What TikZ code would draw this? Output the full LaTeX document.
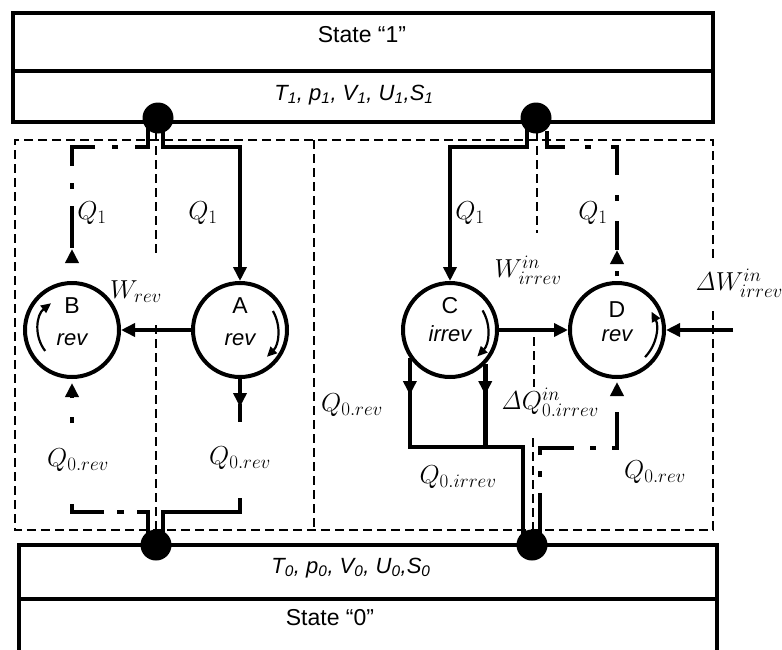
\RequirePackage{fix-cm}
\documentclass[tikz,border=0pt]{standalone}
\usepackage[no-math]{fontspec}
\setmainfont{Liberation Sans}
\DeclareMathSizes{26}{26}{19}{15}
\usetikzlibrary{arrows.meta}
\pgfdeclarelayer{fg}
\pgfsetlayers{main,fg}
\begin{document}
\begin{tikzpicture}[x=1pt,y=-1pt,
  txt/.style={font=\fontsize{23}{27}\selectfont, inner sep=0pt},
  itxt/.style={font=\fontsize{22}{26}\selectfont\itshape, inner sep=0pt},
  mlbl/.style={font=\fontsize{26}{30}\selectfont, inner sep=1pt},
  engine/.style={circle, draw, line width=4pt, minimum size=94pt, inner sep=0pt, fill=white},
  dotn/.style={circle, fill=black, minimum size=31pt, inner sep=0pt},
  boxline/.style={line width=4pt},
  boxdash/.style={line width=2pt, dash pattern=on 9pt off 5pt},
  thindash/.style={line width=2pt, dash pattern=on 9pt off 5pt},
  flow/.style={line width=4.5pt},
  flowarr/.style={line width=4.5pt, -{Triangle[length=14pt,width=13pt]}},
  dd/.style={line width=4.5pt},
  spin/.style={line width=2.2pt, -{Triangle[length=10pt,width=9pt]}}
]
\useasboundingbox (0,0) rectangle (782,649);

% reservoirs
\draw[boxline] (13,13) rectangle (713,122);
\draw[boxline] (13,71) -- (713,71);
\node[txt] (st1) at (362,35) {State “1”};
\node[itxt] (pr1) at (354,95) {T\textsubscript{1}, p\textsubscript{1}, V\textsubscript{1}, U\textsubscript{1},S\textsubscript{1}};

\draw[boxline] (19,660) -- (19,545) -- (717,545) -- (717,660);
\draw[boxline] (19,599) -- (717,599);
\node[itxt] (pr0) at (351,568) {T\textsubscript{0}, p\textsubscript{0}, V\textsubscript{0}, U\textsubscript{0},S\textsubscript{0}};
\node[txt] (st0) at (330,618) {State “0”};

% contact dots
\begin{pgfonlayer}{fg}
\node[dotn] (dTL) at (158,118) {};
\node[dotn] (dTR) at (536,118) {};
\node[dotn] (dBL) at (156,545) {};
\node[dotn] (dBR) at (532,545) {};
\end{pgfonlayer}

% system boundaries
\draw[boxdash] (713,258) -- (713,140) -- (15,140) -- (15,530) -- (713,530) -- (713,310);
\draw[boxdash] (314,140) -- (314,530);
\draw[thindash] (156,118) -- (156,256);
\draw[thindash] (156,325) -- (156,545);
\draw[thindash] (537,118) -- (537,233);
\draw[thindash] (534,337) -- (534,387);
\draw[thindash] (533,438) -- (533,545);

% engines
\node[engine] (B) at (72,330) {};
\node[engine] (A) at (240,330) {};
\node[engine] (C) at (450,330) {};
\node[engine] (D) at (617,330) {};
\node[txt] (Bn) at (72,306) {B};
\node[itxt] (Br) at (72,340) {rev};
\node[txt] (An) at (240,306) {A};
\node[itxt] (Ar) at (240,340) {rev};
\node[txt] (Cn) at (450,306) {C};
\node[itxt] (Cr) at (450,334) {irrev};
\node[txt] (Dn) at (617,310) {D};
\node[itxt] (Dr) at (617,336) {rev};

% rotation arrows
\draw[spin] ([shift={(142:34)}]B.center) arc[start angle=142, end angle=232, radius=34];
\draw[spin] ([shift={(-30:38)}]A.center) arc[start angle=-30, end angle=45, radius=38];
\draw[spin] ([shift={(-31:38)}]C.center) arc[start angle=-31, end angle=44, radius=38];
\draw[spin] ([shift={(44:39)}]D.center) arc[start angle=44, end angle=-28, radius=39];

% left half: A (engine) and B (reversed)
\draw[flowarr] ([xshift=5pt]dTL.center) |- (240,147) -- (A.north);
\draw[dd, dash pattern=on 42pt off 17pt on 6pt off 17pt] ([xshift=-10pt]dTL.center) |- (72,147) -- (72,248);
\draw[flowarr] (72,263) -- (72,249);
\draw[flowarr] (A.south) -- (240,407);
\draw[flow] (240,404) -- (240,422);
\draw[flow] (240,498) -- (240,512) -| ([xshift=7pt]dBL.center);
\draw[dd, dash pattern=on 40pt off 13pt on 7pt off 13pt, dash phase=69pt] ([xshift=-8pt]dBL.center) |- (72,512) -- (72,498);
\draw[flow] (72,423) -- (72,417);
\draw[flowarr] (72,398) -- (72,383);
\draw[flowarr] (A.west) -- (B.east);

% right half: C (irreversible) and D (reversed)
\coordinate (cbase) at (523,447);
\coordinate (ext) at (733,330);
\draw[flowarr] ([xshift=-9pt]dTR.center) |- (450,147) -- (C.north);
\draw[dd, dash pattern=on 34pt off 20pt on 6pt off 20pt, dash phase=67pt] ([xshift=11pt]dTR.center) |- (617,147) -- (617,250);
\draw[flowarr] (617,263) -- (617,250);
\draw[flow] (617,276) -- (617,271);
\draw[flow] (C.215) |- (cbase) -- ([xshift=-9pt]dBR.center);
\draw[flow] (C.316) -- (C.316 |- cbase);
\draw[flowarr] (C.215 |- 0,380) -- (C.215 |- 0,395);
\draw[flowarr] (C.316 |- 0,380) -- (C.316 |- 0,395);
\draw[dd, dash pattern=on 41pt off 16pt on 6pt off 16pt, dash phase=68pt] ([xshift=8pt]dBR.center) |- (617,448) -- (617,408);
\draw[flowarr] (617,396) -- (617,382);
\draw[flowarr] (C.east) -- (D.west);
\draw[flowarr] (ext) -- (D.east);

% labels
\node[mlbl] (q1b) at (92,213) {$Q_1$};
\node[mlbl] (q1a) at (203,213) {$Q_1$};
\node[mlbl] (q1c) at (470,213) {$Q_1$};
\node[mlbl] (q1d) at (593,213) {$Q_1$};
\node[mlbl] (wrev) at (136,292) {$W_{rev}$};
\node[mlbl] (wirr) at (528,270) {$W^{in}_{irrev}$};
\node[mlbl] (dw) at (739,283) {$\mathit{\Delta} W^{in}_{irrev}$};
\node[mlbl] (q0b) at (78,460) {$Q_{0.rev}$};
\node[mlbl] (q0a) at (240,458) {$Q_{0.rev}$};
\node[mlbl] (q0c) at (352,405) {$Q_{0.rev}$};
\node[mlbl] (dq) at (550,402) {$\mathit{\Delta} Q^{in}_{0.irrev}$};
\node[mlbl] (q0i) at (458,477) {$Q_{0.irrev}$};
\node[mlbl] (q0d) at (655,472) {$Q_{0.rev}$};
\end{tikzpicture}
\end{document}
